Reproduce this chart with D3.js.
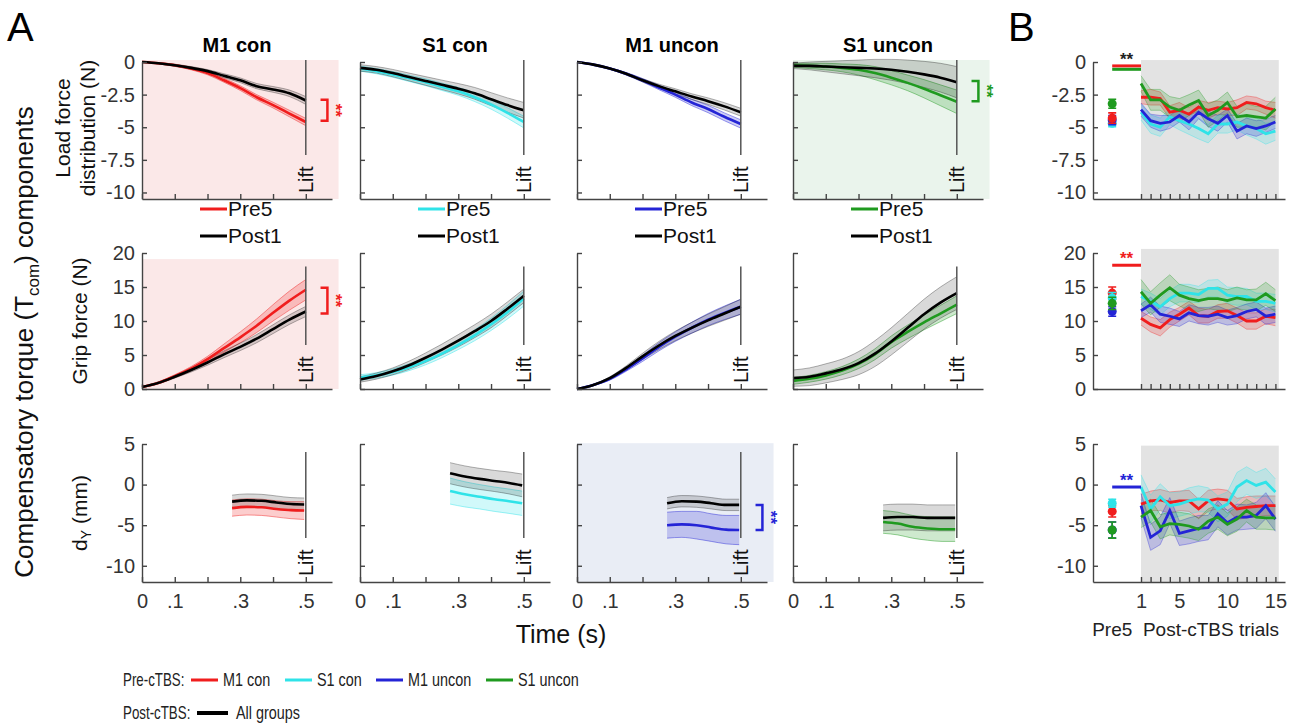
<!DOCTYPE html>
<html>
<head>
<meta charset="utf-8">
<script src="https://cdn.jsdelivr.net/npm/d3@7"></script>
<style>
body { margin: 0; background: #fff; }
</style>
</head>
<body>
<div id="app"></div>
<script>
// groups, in the order red / cyan / blue / green
const groupNames = ['M1 con', 'S1 con', 'M1 uncon', 'S1 uncon']
const groupColors = ['#f01d1d', '#2fe3e8', '#2424d6', '#1f9a1f']

// panel A time bases
const timeA = [0, 0.05, 0.1, 0.15, 0.2, 0.25, 0.3, 0.35, 0.4, 0.45, 0.5]
const timeDy = [0.275, 0.32, 0.365, 0.41, 0.455, 0.495]

// load force distribution (N)
const loadPreMean = [
  [0, -0.1, -0.25, -0.5, -0.85, -1.4, -2.0, -2.7, -3.3, -3.95, -4.6],
  [-0.5, -0.7, -0.95, -1.25, -1.55, -1.9, -2.25, -2.7, -3.25, -3.9, -4.6],
  [0, -0.2, -0.5, -0.9, -1.4, -1.95, -2.5, -3.1, -3.6, -4.2, -4.75],
  [-0.25, -0.3, -0.35, -0.45, -0.6, -0.85, -1.2, -1.6, -2.05, -2.55, -3.05]
]
const loadPreSe = [
  [0.02, 0.05, 0.08, 0.1, 0.13, 0.15, 0.18, 0.2, 0.22, 0.25, 0.28],
  [0.2, 0.2, 0.22, 0.24, 0.26, 0.28, 0.3, 0.33, 0.36, 0.4, 0.45],
  [0.02, 0.04, 0.06, 0.1, 0.13, 0.17, 0.2, 0.24, 0.28, 0.3, 0.32],
  [0.15, 0.2, 0.25, 0.3, 0.4, 0.5, 0.55, 0.6, 0.7, 0.8, 0.9]
]
const loadPostMean = [
  [0, -0.1, -0.25, -0.45, -0.7, -1.05, -1.4, -1.85, -2.1, -2.4, -2.95],
  [-0.45, -0.6, -0.85, -1.15, -1.45, -1.75, -2.05, -2.4, -2.85, -3.3, -3.7],
  [0, -0.2, -0.5, -0.9, -1.4, -1.85, -2.25, -2.65, -3.0, -3.4, -3.85],
  [-0.3, -0.3, -0.35, -0.4, -0.45, -0.5, -0.6, -0.75, -0.95, -1.2, -1.55]
]
const loadPostSe = [
  [0.02, 0.05, 0.08, 0.1, 0.12, 0.15, 0.18, 0.2, 0.22, 0.25, 0.3],
  [0.25, 0.25, 0.28, 0.3, 0.33, 0.36, 0.4, 0.45, 0.5, 0.55, 0.6],
  [0.02, 0.04, 0.06, 0.08, 0.12, 0.15, 0.2, 0.22, 0.25, 0.28, 0.3],
  [0.2, 0.3, 0.4, 0.5, 0.6, 0.7, 0.8, 0.9, 1.0, 1.1, 1.2]
]

// grip force (N)
const gripPreMean = [
  [0.3, 0.9, 1.9, 3.0, 4.4, 6.0, 7.6, 9.3, 11.2, 13.0, 14.6],
  [1.7, 2.0, 2.5, 3.2, 4.1, 5.2, 6.5, 7.9, 9.5, 11.3, 13.3],
  [0, 0.6, 1.5, 2.9, 4.5, 6.2, 7.7, 9.0, 10.2, 11.2, 12.1],
  [1.2, 1.5, 2.0, 2.7, 3.7, 5.1, 6.9, 8.4, 9.8, 11.1, 12.4]
]
const gripPreSe = [
  [0.1, 0.15, 0.2, 0.3, 0.4, 0.6, 0.8, 1.0, 1.2, 1.4, 1.5],
  [0.4, 0.4, 0.45, 0.5, 0.55, 0.6, 0.7, 0.8, 0.9, 1.0, 1.1],
  [0.05, 0.1, 0.2, 0.3, 0.45, 0.6, 0.7, 0.8, 0.9, 1.0, 1.1],
  [0.5, 0.5, 0.55, 0.6, 0.7, 0.8, 0.9, 1.0, 1.1, 1.2, 1.3]
]
const gripPostMean = [
  [0.3, 0.9, 1.8, 2.8, 3.9, 5.1, 6.2, 7.4, 8.8, 10.2, 11.4],
  [1.4, 1.9, 2.6, 3.5, 4.6, 5.8, 7.1, 8.5, 10.0, 11.8, 13.7],
  [0, 0.6, 1.6, 3.1, 4.8, 6.4, 7.8, 9.0, 10.1, 11.1, 12.1],
  [1.6, 1.8, 2.3, 2.9, 3.8, 5.2, 7.0, 9.0, 11.0, 12.7, 14.1]
]
const gripPostSe = [
  [0.1, 0.15, 0.2, 0.3, 0.4, 0.5, 0.55, 0.6, 0.65, 0.7, 0.75],
  [0.4, 0.45, 0.5, 0.6, 0.7, 0.8, 0.9, 0.95, 1.0, 1.0, 1.0],
  [0.05, 0.1, 0.2, 0.3, 0.45, 0.6, 0.7, 0.8, 0.9, 1.0, 1.1],
  [1.2, 1.3, 1.4, 1.5, 1.7, 1.9, 2.0, 2.1, 2.2, 2.3, 2.4]
]

// dY (mm)
const dyPreMean = [
  [-2.9, -2.75, -2.8, -3.0, -3.15, -3.2],
  [-0.8, -1.2, -1.5, -1.8, -2.05, -2.3],
  [-5.0, -4.9, -5.0, -5.3, -5.55, -5.6],
  [-4.6, -4.8, -5.2, -5.4, -5.5, -5.5]
]
const dyPreSe = [
  [1.0, 1.0, 1.0, 1.0, 1.05, 1.1],
  [1.6, 1.55, 1.5, 1.5, 1.5, 1.5],
  [1.6, 1.6, 1.7, 1.7, 1.75, 1.8],
  [1.4, 1.4, 1.4, 1.45, 1.5, 1.5]
]
const dyPostMean = [
  [-2.1, -1.95, -2.0, -2.2, -2.4, -2.45],
  [1.4, 1.0, 0.7, 0.45, 0.2, -0.1],
  [-2.3, -2.05, -2.1, -2.3, -2.5, -2.5],
  [-4.1, -4.0, -4.0, -4.1, -4.1, -4.1]
]
const dyPostSe = [
  [0.8, 0.8, 0.8, 0.8, 0.8, 0.8],
  [1.3, 1.3, 1.3, 1.3, 1.35, 1.4],
  [0.7, 0.7, 0.7, 0.7, 0.7, 0.7],
  [1.6, 1.6, 1.6, 1.6, 1.6, 1.6]
]

// panel B: post-cTBS trials 1..15
const trials = [1, 2, 3, 4, 5, 6, 7, 8, 9, 10, 11, 12, 13, 14, 15]
const bLoadMean = [
  [-2.7, -2.7, -2.8, -3.85, -3.7, -4.0, -3.45, -3.7, -3.5, -3.6, -3.5, -3.1, -3.2, -3.5, -3.7],
  [-3.85, -4.75, -5.0, -4.2, -4.5, -4.75, -5.1, -5.5, -4.75, -4.75, -4.6, -4.9, -5.1, -5.5, -5.3],
  [-3.65, -4.5, -4.7, -4.6, -4.1, -4.6, -3.85, -4.35, -4.7, -4.1, -5.3, -4.9, -5.1, -4.9, -4.6],
  [-1.65, -2.9, -2.9, -3.45, -3.7, -3.3, -2.95, -4.1, -3.7, -3.1, -4.2, -4.1, -4.2, -4.3, -3.6]
]
const bLoadSe = [
  [0.5, 0.6, 0.5, 0.5, 0.6, 0.5, 0.5, 0.6, 0.5, 0.5, 0.6, 0.5, 0.5, 0.5, 0.6],
  [0.6, 0.7, 0.7, 0.6, 0.7, 0.8, 0.8, 0.7, 0.7, 0.7, 0.6, 0.7, 0.8, 0.8, 0.7],
  [0.5, 0.5, 0.6, 0.5, 0.5, 0.6, 0.5, 0.6, 0.6, 0.5, 0.6, 0.6, 0.6, 0.5, 0.5],
  [0.6, 0.8, 0.8, 0.8, 0.9, 0.8, 0.8, 0.9, 0.8, 0.8, 0.8, 0.9, 0.8, 0.9, 0.9]
]
const bGripMean = [
  [10.4, 9.5, 9.0, 10.2, 11.0, 11.9, 10.8, 10.7, 11.4, 11.5, 10.8, 10.0, 10.0, 10.7, 10.5],
  [13.6, 12.9, 12.1, 13.3, 14.1, 14.1, 13.9, 14.8, 14.8, 13.8, 13.6, 13.6, 12.9, 12.9, 12.6],
  [11.5, 12.4, 11.0, 10.7, 10.3, 11.2, 10.8, 10.7, 11.0, 10.5, 10.8, 11.4, 11.7, 10.7, 11.0],
  [14.3, 12.6, 13.8, 14.9, 13.8, 13.3, 13.0, 13.3, 13.3, 13.0, 13.4, 13.1, 13.1, 14.0, 13.0]
]
const bGripSe = [
  [1.0, 1.1, 1.2, 1.1, 1.0, 1.0, 1.1, 1.0, 1.0, 1.1, 1.1, 1.2, 1.2, 1.1, 1.2],
  [1.1, 1.2, 1.2, 1.2, 1.3, 1.3, 1.2, 1.2, 1.3, 1.2, 1.3, 1.2, 1.2, 1.2, 1.3],
  [1.0, 1.1, 1.2, 1.2, 1.1, 1.2, 1.2, 1.3, 1.2, 1.1, 1.2, 1.1, 1.1, 1.2, 1.2],
  [1.8, 1.7, 1.8, 1.9, 1.6, 1.7, 1.6, 1.5, 1.7, 1.6, 1.6, 1.5, 1.6, 1.7, 1.6]
]
const bDyMean = [
  [-2.4, -2.0, -1.9, -2.2, -2.0, -2.0, -3.0, -2.0, -1.75, -1.9, -3.0, -2.8, -2.7, -2.6, -2.6],
  [-0.3, -3.0, -1.5, -2.6, -2.4, -2.0, -1.75, -1.9, -3.0, -2.4, -0.3, 0.5, -0.1, 0.3, -0.9],
  [-2.6, -6.5, -5.7, -3.2, -6.0, -5.7, -5.4, -5.3, -3.6, -4.7, -4.0, -4.0, -3.8, -2.6, -4.25],
  [-4.0, -3.2, -5.2, -4.8, -4.9, -5.1, -5.5, -4.5, -4.0, -4.9, -4.25, -3.2, -4.0, -4.1, -4.1]
]
const bDySe = [
  [1.2, 1.2, 1.3, 1.3, 1.2, 1.3, 1.2, 1.3, 1.2, 1.2, 1.3, 1.3, 1.3, 1.2, 1.2],
  [1.5, 1.7, 1.6, 1.6, 1.5, 1.6, 1.6, 1.5, 1.6, 1.5, 1.8, 1.7, 1.6, 1.7, 1.6],
  [1.5, 1.6, 1.7, 1.6, 1.5, 1.6, 1.6, 1.5, 1.6, 1.5, 1.6, 1.5, 1.6, 1.6, 1.5],
  [1.3, 1.4, 1.5, 1.4, 1.5, 1.5, 1.4, 1.5, 1.5, 1.4, 1.5, 1.4, 1.5, 1.4, 1.5]
]

// panel B: Pre5 mean and error per group
const pre5Load = [-4.3, -4.7, -4.45, -3.2]
const pre5LoadErr = [0.4, 0.25, 0.35, 0.35]
const pre5Grip = [14.1, 13.4, 11.4, 12.6]
const pre5GripErr = [0.9, 0.8, 0.7, 0.9]
const pre5Dy = [-3.3, -2.3, -5.6, -5.6]
const pre5DyErr = [0.7, 0.5, 1.0, 1.0]

// tick values
const loadTicks = [0, -2.5, -5, -7.5, -10]
const gripTicks = [0, 5, 10, 15, 20]
const dyTicks = [5, 0, -5, -10]
const timeTicks = [0, 0.1, 0.2, 0.3, 0.4, 0.5]
const timeTickLabels = ['0', '.1', '', '.3', '', '.5']
const trialTickLabels = [1, 5, 10, 15]

const FONT = 'Arial, "Liberation Sans", Helvetica, sans-serif'
const svg = d3.select('#app').append('svg')
  .attr('width', 1294).attr('height', 723)
  .attr('font-family', FONT)

const colX = [142, 360, 577, 793]
const rows = [
  { pre: loadPreMean, preSe: loadPreSe, post: loadPostMean, postSe: loadPostSe, time: timeA,
    bMean: bLoadMean, bSe: bLoadSe, p5: pre5Load, p5e: pre5LoadErr,
    dom: [-10.5, 0], range: [199, 62], ticks: loadTicks, bgTop: 0.15, liftTop: 0.15, bTop: 0.15 },
  { pre: gripPreMean, preSe: gripPreSe, post: gripPostMean, postSe: gripPostSe, time: timeA,
    bMean: bGripMean, bSe: bGripSe, p5: pre5Grip, p5e: pre5GripErr,
    dom: [0, 20], range: [389, 253], ticks: gripTicks, bgTop: 19.1, liftTop: 18, bTop: 20.6 },
  { pre: dyPreMean, preSe: dyPreSe, post: dyPostMean, postSe: dyPostSe, time: timeDy,
    bMean: bDyMean, bSe: bDySe, p5: pre5Dy, p5e: pre5DyErr,
    dom: [-12, 5], range: [582, 444], ticks: dyTicks, bgTop: 5.1, liftTop: 4, bTop: 4.8 }
]
const shades = [
  { r: 0, c: 0, color: '#fbe8e8' },
  { r: 1, c: 0, color: '#fbe8e8' },
  { r: 0, c: 3, color: '#eaf4ec' },
  { r: 2, c: 2, color: '#e9edf5' }
]
const brackets = [
  { r: 0, c: 0, y1: -2.9, y2: -4.5 },
  { r: 1, c: 0, y1: 14.9, y2: 11.1 },
  { r: 0, c: 3, y1: -1.45, y2: -3.0 },
  { r: 2, c: 2, y1: -2.5, y2: -5.6 }
]

const TICK_FS = 20
function styleAxis(g) {
  g.attr('font-family', FONT).attr('font-size', TICK_FS)
  g.select('.domain').attr('stroke', '#444').attr('stroke-width', 1.4)
  g.selectAll('.tick line').attr('stroke', '#444').attr('stroke-width', 1.4)
  g.selectAll('.tick text').attr('fill', '#333')
}

function drawBand(g, pts, x, y, color, fillOp, edgeOp, curve) {
  g.append('path').datum(pts)
    .attr('d', d3.area().x(d => x(d.t)).y0(d => y(d.m - d.s)).y1(d => y(d.m + d.s)).curve(curve))
    .attr('fill', color).attr('fill-opacity', fillOp)
  ;[-1, 1].forEach(k => {
    g.append('path').datum(pts)
      .attr('d', d3.line().x(d => x(d.t)).y(d => y(d.m + k * d.s)).curve(curve))
      .attr('fill', 'none').attr('stroke', color).attr('stroke-opacity', edgeOp).attr('stroke-width', 1)
  })
}
function drawLine(g, pts, x, y, color, w, curve) {
  g.append('path').datum(pts)
    .attr('d', d3.line().x(d => x(d.t)).y(d => y(d.m)).curve(curve))
    .attr('fill', 'none').attr('stroke', color).attr('stroke-width', w)
}

// ---------- panel A ----------
rows.forEach((row, r) => {
  const y = d3.scaleLinear().domain(row.dom).range(row.range)
  groupNames.forEach((name, c) => {
    const x = d3.scaleLinear().domain([0, 0.58]).range([colX[c], colX[c] + 190])
    const g = svg.append('g')
    const bg = shades.find(s => s.r === r && s.c === c)
    if (bg) {
      g.append('rect')
        .attr('x', x(0)).attr('y', y(row.bgTop))
        .attr('width', x(0.6) - x(0)).attr('height', y(row.dom[0]) - y(row.bgTop))
        .attr('fill', bg.color)
    }
    const pre = row.time.map((t, i) => ({ t, m: row.pre[c][i], s: row.preSe[c][i] }))
    const post = row.time.map((t, i) => ({ t, m: row.post[c][i], s: row.postSe[c][i] }))
    drawBand(g, pre, x, y, groupColors[c], 0.22, 0.45, d3.curveMonotoneX)
    drawBand(g, post, x, y, '#000', 0.15, 0.3, d3.curveMonotoneX)
    drawLine(g, pre, x, y, groupColors[c], 2.6, d3.curveMonotoneX)
    drawLine(g, post, x, y, '#000', 2.6, d3.curveMonotoneX)

    // lift marker
    const bottom = y(row.dom[0])
    g.append('line')
      .attr('x1', x(0.5)).attr('x2', x(0.5))
      .attr('y1', y(row.liftTop)).attr('y2', bottom - 44)
      .attr('stroke', '#555').attr('stroke-width', 1.5)
    g.append('text')
      .attr('transform', `translate(${x(0.5)},${bottom - 6}) rotate(-90)`)
      .attr('dy', '0.35em').attr('font-size', 20).attr('fill', '#111')
      .text('Lift')

    // significance bracket
    const br = brackets.find(b => b.r === r && b.c === c)
    if (br) {
      const bx1 = x(0.545), bx2 = x(0.566)
      g.append('path')
        .attr('d', `M${bx1},${y(br.y1)}H${bx2}V${y(br.y2)}H${bx1}`)
        .attr('fill', 'none').attr('stroke', groupColors[c]).attr('stroke-width', 2.5)
      g.append('text')
        .attr('transform', `translate(${bx2 + 3},${(y(br.y1) + y(br.y2)) / 2}) rotate(90)`)
        .attr('text-anchor', 'middle').attr('font-size', 17).attr('font-weight', 'bold')
        .attr('fill', groupColors[c]).text('**')
    }

    // axes
    const ya = g.append('g').attr('transform', `translate(${x(0)},0)`)
      .call(d3.axisLeft(y).tickValues(row.ticks).tickSize(-5).tickSizeOuter(0).tickPadding(7)
        .tickFormat(d => c === 0 ? String(d) : ''))
    styleAxis(ya)
    const xa = g.append('g').attr('transform', `translate(0,${bottom})`)
      .call(d3.axisBottom(x).tickValues(timeTicks).tickSize(-5).tickSizeOuter(0).tickPadding(12)
        .tickFormat((d, i) => r === 2 ? timeTickLabels[i] : ''))
    styleAxis(xa)

    // titles and small legends on the first row
    if (r === 0) {
      svg.append('text')
        .attr('x', colX[c] + 95).attr('y', 52)
        .attr('text-anchor', 'middle').attr('font-size', 20).attr('font-weight', 'bold')
        .text(name)
      ;[['Pre5', groupColors[c], 209], ['Post1', '#000', 236]].forEach(([lab, col, ly]) => {
        svg.append('line')
          .attr('x1', colX[c] + 58).attr('x2', colX[c] + 85).attr('y1', ly).attr('y2', ly)
          .attr('stroke', col).attr('stroke-width', 3)
        svg.append('text')
          .attr('x', colX[c] + 86).attr('y', ly).attr('dy', '0.35em')
          .attr('font-size', 21).attr('fill', '#111').text(lab)
      })
    }
  })
})

// ---------- panel B ----------
const bx = d3.scaleLinear().domain([-4, 16]).range([1093, 1285])
const pre5X = -2
const bOrder = [0, 1, 2, 3]
const bSig = [
  [{ v: -0.3, c: 0 }, { v: -0.56, c: 3 }],
  [{ v: 18.2, c: 0 }],
  [{ v: -0.3, c: 2 }]
]
const bStarColor = ['#222', groupColors[0], groupColors[2]]
rows.forEach((row, r) => {
  const y = d3.scaleLinear().domain(row.dom).range(row.range)
  const g = svg.append('g')
  const bottom = y(row.dom[0])
  g.append('rect')
    .attr('x', bx(1)).attr('y', y(row.bTop))
    .attr('width', bx(15.35) - bx(1)).attr('height', bottom - y(row.bTop))
    .attr('fill', '#e3e3e3')
  bOrder.forEach(c => {
    const pts = trials.map((t, i) => ({ t, m: row.bMean[c][i], s: row.bSe[c][i] }))
    drawBand(g, pts, bx, y, groupColors[c], 0.2, 0.35, d3.curveLinear)
  })
  bOrder.forEach(c => {
    const pts = trials.map((t, i) => ({ t, m: row.bMean[c][i], s: row.bSe[c][i] }))
    drawLine(g, pts, bx, y, groupColors[c], 2.8, d3.curveLinear)
  })
  // Pre5 points with error bars
  const p5Order = r === 0 ? [1, 2, 0, 3] : bOrder
  p5Order.forEach(c => {
    const px = bx(pre5X), m = row.p5[c], e = row.p5e[c]
    g.append('path')
      .attr('d', `M${px},${y(m - e)}V${y(m + e)}M${px - 4},${y(m - e)}H${px + 4}M${px - 4},${y(m + e)}H${px + 4}`)
      .attr('stroke', groupColors[c]).attr('stroke-width', 1.6).attr('fill', 'none')
    g.append('circle').attr('cx', px).attr('cy', y(m)).attr('r', 4.5).attr('fill', groupColors[c])
  })
  // significance bars
  bSig[r].forEach(s => {
    g.append('line')
      .attr('x1', bx(pre5X)).attr('x2', bx(1)).attr('y1', y(s.v)).attr('y2', y(s.v))
      .attr('stroke', groupColors[s.c]).attr('stroke-width', 3)
  })
  g.append('text')
    .attr('x', (bx(pre5X) + bx(1)) / 2).attr('y', y(bSig[r][0].v) - 1)
    .attr('text-anchor', 'middle').attr('font-size', 17).attr('font-weight', 'bold')
    .attr('fill', bStarColor[r]).text('**')

  const ya = g.append('g').attr('transform', `translate(${bx(-4)},0)`)
    .call(d3.axisLeft(y).tickValues(row.ticks).tickSize(-5).tickSizeOuter(0).tickPadding(7)
      .tickFormat(d => String(d)))
  styleAxis(ya)
  const xa = g.append('g').attr('transform', `translate(0,${bottom})`)
    .call(d3.axisBottom(bx).tickValues(trials).tickSize(-5).tickSizeOuter(0).tickPadding(12)
      .tickFormat(d => r === 2 && trialTickLabels.includes(d) ? String(d) : ''))
  styleAxis(xa)
})
svg.append('text').attr('x', bx(pre5X)).attr('y', 636).attr('text-anchor', 'middle')
  .attr('font-size', 19).attr('fill', '#222').text('Pre5')
svg.append('text').attr('x', 1211).attr('y', 636).attr('text-anchor', 'middle')
  .attr('font-size', 19).attr('fill', '#222').text('Post-cTBS trials')

// ---------- labels ----------
svg.append('text').attr('x', 7).attr('y', 41).attr('font-size', 40).text('A')
svg.append('text').attr('x', 1008).attr('y', 41).attr('font-size', 40).text('B')

const big = svg.append('text')
  .attr('transform', 'translate(33,342) rotate(-90)')
  .attr('text-anchor', 'middle').attr('font-size', 26).attr('fill', '#111')
big.append('tspan').text('Compensatory torque (T')
big.append('tspan').attr('font-size', 17).attr('dy', 6).text('com')
big.append('tspan').attr('dy', -6).text(') components')

const rowLabel = (x, yc, txt) => svg.append('text')
  .attr('transform', `translate(${x},${yc}) rotate(-90)`)
  .attr('text-anchor', 'middle').attr('font-size', 21).attr('fill', '#111').text(txt)
rowLabel(70, 128, 'Load force')
rowLabel(95, 128, 'distribution (N)')
rowLabel(87, 321, 'Grip force (N)')
const dyl = svg.append('text')
  .attr('transform', 'translate(87,513) rotate(-90)')
  .attr('text-anchor', 'middle').attr('font-size', 21).attr('fill', '#111')
dyl.append('tspan').text('d')
dyl.append('tspan').attr('font-size', 14).attr('dy', 4).text('Y')
dyl.append('tspan').attr('dy', -4).text(' (mm)')

svg.append('text').attr('x', 561).attr('y', 643).attr('text-anchor', 'middle')
  .attr('font-size', 25).attr('fill', '#111').text('Time (s)')

// ---------- bottom legend (narrow lettering) ----------
const legText = (x, y, txt, sx) => svg.append('text')
  .attr('transform', `translate(${x},${y}) scale(${sx},1)`)
  .attr('dy', '0.35em').attr('font-size', 18).attr('fill', '#222').text(txt)
legText(123, 680, 'Pre-cTBS:', 0.74)
const legX = [191, 285, 376, 486]
groupNames.forEach((name, c) => {
  svg.append('line').attr('x1', legX[c]).attr('x2', legX[c] + 27).attr('y1', 680).attr('y2', 680)
    .attr('stroke', groupColors[c]).attr('stroke-width', 3)
  legText(legX[c] + 32, 680, name, 0.8)
})
legText(123, 713, 'Post-cTBS:', 0.74)
svg.append('line').attr('x1', 197).attr('x2', 228).attr('y1', 713).attr('y2', 713)
  .attr('stroke', '#000').attr('stroke-width', 4)
legText(236, 713, 'All groups', 0.8)
</script>
</body>
</html>
